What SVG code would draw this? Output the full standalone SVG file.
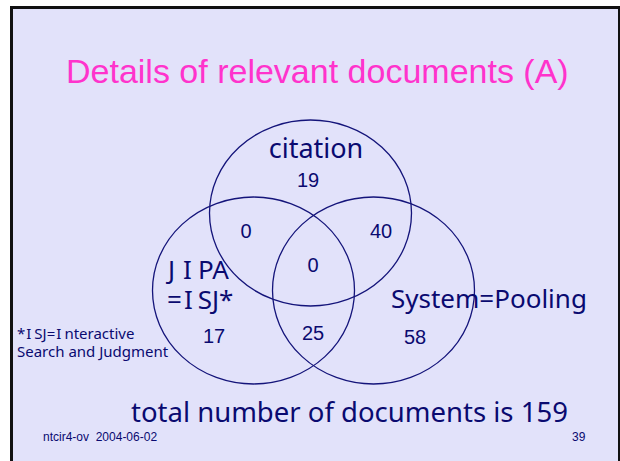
<svg xmlns="http://www.w3.org/2000/svg" width="620" height="461" viewBox="0 0 620 461">
  <style>
    .set { fill: none; stroke: #14147a; stroke-width: 1.3; }
    .lbl { font-family: "Noto Sans", "DejaVu Sans", sans-serif; fill: #0a0a70; }
    .num { font-family: "Liberation Sans", Arial, sans-serif; font-size: 20px; fill: #0a0a70; text-anchor: middle; }
    .foot { font-family: "Liberation Sans", Arial, sans-serif; font-size: 12px; fill: #0a0a70; white-space: pre; }
  </style>
  <rect x="0" y="0" width="620" height="461" fill="#ffffff"/>
  <rect id="frame" x="10" y="6" width="610" height="460" fill="#111111"/>
  <rect id="slide" x="13" y="9" width="605" height="460" fill="#e2e2fa"/>

  <text id="title" x="66" y="83" font-family="Liberation Sans, Arial, sans-serif" font-size="34" fill="#ff33cc">Details of relevant documents (A)</text>

  <g id="set-citation">
    <ellipse class="set" cx="310.5" cy="213" rx="101" ry="93"/>
    <text class="lbl" x="316" y="158" font-size="27" text-anchor="middle">citation</text>
  </g>
  <g id="set-jipa">
    <ellipse class="set" cx="253.5" cy="290.5" rx="101" ry="93.5"/>
    <text class="lbl" x="168" y="279" font-size="26">J<tspan dx="8">I</tspan><tspan dx="6">PA</tspan></text>
    <text class="lbl" x="167" y="309" font-size="26">=<tspan dx="2">I</tspan><tspan dx="5">SJ*</tspan></text>
  </g>
  <g id="set-system">
    <ellipse class="set" cx="373.5" cy="290.5" rx="101" ry="93.5"/>
    <text class="lbl" x="391" y="308" font-size="26">System=Pooling</text>
  </g>

  <g id="counts">
    <text class="num" x="308" y="187">19</text>
    <text class="num" x="246" y="238">0</text>
    <text class="num" x="381" y="238">40</text>
    <text class="num" x="313" y="272">0</text>
    <text class="num" x="214" y="343">17</text>
    <text class="num" x="313" y="340">25</text>
    <text class="num" x="415" y="344">58</text>
  </g>

  <g id="note">
    <text class="lbl" x="17" y="339" font-size="15">*<tspan dx="1">I</tspan><tspan dx="3">SJ=</tspan><tspan dx="1">I</tspan><tspan dx="3">nteractive</tspan></text>
    <text class="lbl" x="17" y="357" font-size="15">Search and Judgment</text>
  </g>

  <text id="total" class="lbl" x="131" y="422" font-size="27.5">total number of documents is 159</text>

  <g id="footer">
    <text class="foot" x="43" y="441">ntcir4-ov  2004-06-02</text>
    <text class="foot" x="572" y="441">39</text>
  </g>
</svg>
